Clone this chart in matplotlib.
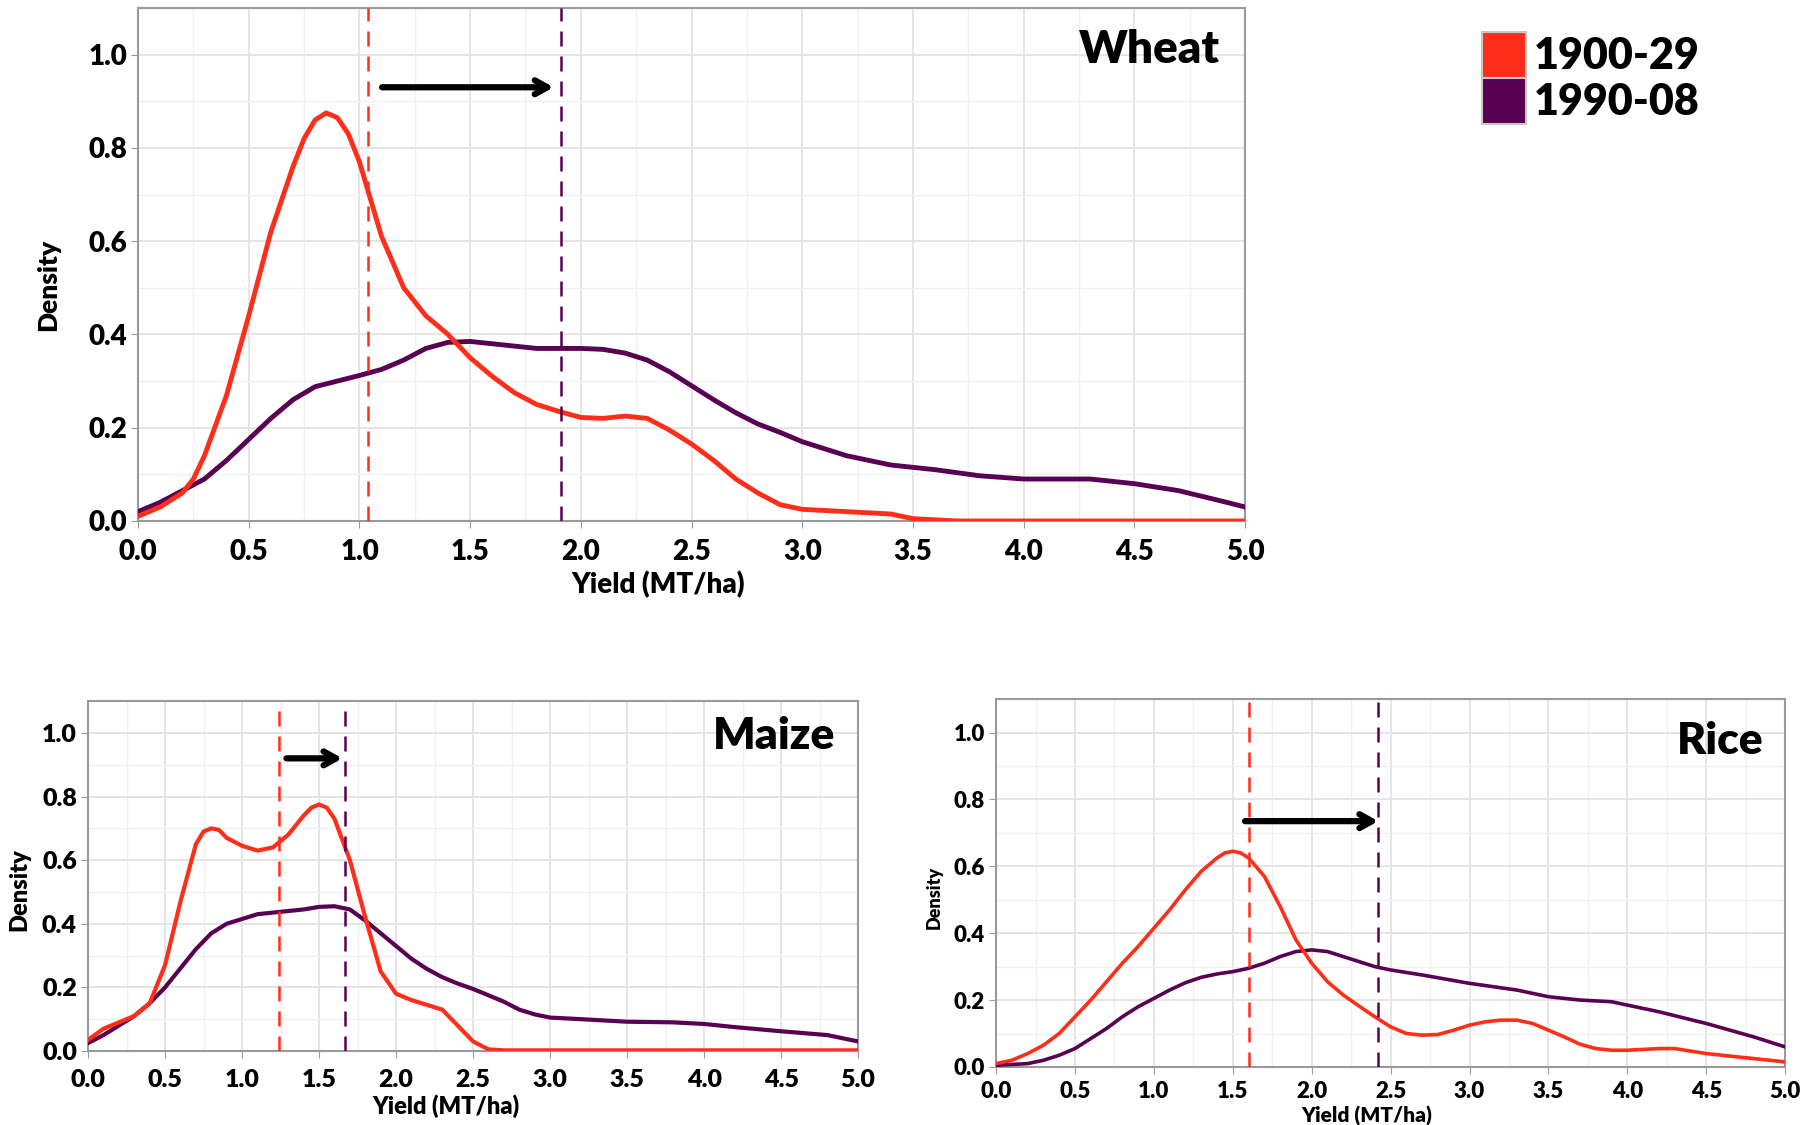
import matplotlib
matplotlib.use("Agg")
import matplotlib.pyplot as plt
from matplotlib.patches import Rectangle
from matplotlib.ticker import MultipleLocator

plt.rcParams["font.family"] = ["Lato", "DejaVu Sans"]
plt.rcParams["font.weight"] = "bold"

RED = "#ff2e1a"
PURPLE = "#5a0052"

# wheat densities
wheat_x_old = [0.0, 0.1, 0.2, 0.25, 0.3, 0.4, 0.5, 0.6, 0.7, 0.75, 0.8, 0.85, 0.9, 0.95, 1.0, 1.05,
               1.1, 1.2, 1.3, 1.4, 1.5, 1.6, 1.7, 1.8, 1.9, 2.0, 2.1, 2.2, 2.3, 2.4, 2.5,
               2.6, 2.7, 2.8, 2.9, 3.0, 3.2, 3.4, 3.5, 3.7, 5.0]
wheat_y_old = [0.01, 0.03, 0.06, 0.09, 0.14, 0.27, 0.44, 0.62, 0.76, 0.82, 0.86, 0.875, 0.865, 0.83, 0.77, 0.69,
               0.61, 0.50, 0.44, 0.40, 0.35, 0.31, 0.275, 0.25, 0.235, 0.222, 0.22, 0.225, 0.22, 0.195, 0.165,
               0.13, 0.09, 0.06, 0.035, 0.025, 0.02, 0.015, 0.005, 0.0, 0.0]
wheat_x_new = [0.0, 0.1, 0.2, 0.3, 0.4, 0.5, 0.6, 0.7, 0.8, 0.9, 1.0, 1.1, 1.2, 1.3, 1.4, 1.5,
               1.6, 1.7, 1.8, 1.9, 2.0, 2.1, 2.2, 2.3, 2.4, 2.5, 2.6, 2.7, 2.8, 2.9, 3.0,
               3.2, 3.4, 3.6, 3.8, 4.0, 4.3, 4.5, 4.7, 4.9, 5.0]
wheat_y_new = [0.02, 0.04, 0.065, 0.09, 0.13, 0.175, 0.22, 0.26, 0.288, 0.30, 0.312, 0.325, 0.345, 0.37, 0.383, 0.385,
               0.38, 0.375, 0.37, 0.37, 0.37, 0.368, 0.36, 0.345, 0.32, 0.29, 0.26, 0.232, 0.208, 0.19, 0.17,
               0.14, 0.12, 0.11, 0.097, 0.09, 0.09, 0.08, 0.065, 0.042, 0.03]

# maize densities
maize_x_old = [0.0, 0.1, 0.2, 0.3, 0.4, 0.5, 0.6, 0.7, 0.75, 0.8, 0.85, 0.9, 1.0, 1.1, 1.2, 1.3, 1.4,
               1.45, 1.5, 1.55, 1.6, 1.7, 1.8, 1.9, 2.0, 2.1, 2.2, 2.3, 2.4, 2.5, 2.6, 2.7, 5.0]
maize_y_old = [0.035, 0.07, 0.09, 0.11, 0.15, 0.27, 0.47, 0.65, 0.69, 0.70, 0.695, 0.67, 0.645, 0.63, 0.64, 0.68, 0.74,
               0.765, 0.775, 0.765, 0.73, 0.60, 0.42, 0.25, 0.18, 0.16, 0.145, 0.13, 0.08, 0.03, 0.005, 0.002, 0.002]
maize_x_new = [0.0, 0.1, 0.2, 0.3, 0.4, 0.5, 0.6, 0.7, 0.8, 0.9, 1.0, 1.1, 1.2, 1.3, 1.4, 1.5,
               1.6, 1.7, 1.8, 1.9, 2.0, 2.1, 2.2, 2.3, 2.4, 2.5, 2.6, 2.7, 2.8, 2.9, 3.0,
               3.2, 3.5, 3.8, 4.0, 4.2, 4.5, 4.8, 5.0]
maize_y_new = [0.025, 0.05, 0.08, 0.11, 0.15, 0.20, 0.26, 0.32, 0.37, 0.40, 0.415, 0.43, 0.435, 0.44, 0.445, 0.453,
               0.455, 0.445, 0.41, 0.37, 0.33, 0.29, 0.258, 0.232, 0.212, 0.195, 0.175, 0.155, 0.13, 0.115, 0.105,
               0.10, 0.092, 0.09, 0.085, 0.075, 0.062, 0.05, 0.03]

# rice densities
rice_x_old = [0.0, 0.1, 0.2, 0.3, 0.4, 0.5, 0.6, 0.7, 0.8, 0.9, 1.0, 1.1, 1.2, 1.3, 1.4, 1.45, 1.5,
              1.55, 1.6, 1.7, 1.8, 1.9, 2.0, 2.1, 2.2, 2.3, 2.4, 2.5, 2.6, 2.7, 2.8, 2.9, 3.0,
              3.1, 3.2, 3.3, 3.4, 3.5, 3.6, 3.7, 3.8, 3.9, 4.0, 4.2, 4.3, 4.5, 4.7, 5.0]
rice_y_old = [0.01, 0.02, 0.04, 0.065, 0.10, 0.15, 0.20, 0.255, 0.31, 0.36, 0.415, 0.47, 0.53, 0.585, 0.625, 0.64, 0.645,
              0.64, 0.625, 0.57, 0.48, 0.38, 0.31, 0.255, 0.215, 0.182, 0.15, 0.12, 0.10, 0.095, 0.097, 0.11, 0.125,
              0.135, 0.14, 0.14, 0.13, 0.11, 0.09, 0.068, 0.055, 0.05, 0.05, 0.055, 0.055, 0.04, 0.03, 0.015]
rice_x_new = [0.0, 0.2, 0.3, 0.4, 0.5, 0.6, 0.7, 0.8, 0.9, 1.0, 1.1, 1.2, 1.3, 1.4, 1.5,
              1.6, 1.7, 1.8, 1.9, 2.0, 2.1, 2.2, 2.3, 2.4, 2.5, 2.7, 3.0, 3.3, 3.5, 3.7,
              3.9, 4.0, 4.2, 4.5, 4.8, 5.0]
rice_y_new = [0.005, 0.01, 0.02, 0.035, 0.055, 0.085, 0.115, 0.15, 0.18, 0.205, 0.23, 0.252, 0.268, 0.278, 0.285,
              0.295, 0.31, 0.33, 0.345, 0.35, 0.345, 0.33, 0.315, 0.30, 0.29, 0.275, 0.25, 0.23, 0.21, 0.20,
              0.195, 0.185, 0.165, 0.13, 0.09, 0.06]

# mean lines and arrow positions (x0, x1, y)
wheat_means = [1.04, 1.91]
maize_means = [1.24, 1.67]
rice_means = [1.60, 2.42]
wheat_arrow = [1.09, 1.89, 0.93]
maize_arrow = [1.27, 1.67, 0.92]
rice_arrow = [1.56, 2.44, 0.735]

legend_labels = ["1900-29", "1990-08"]

fig = plt.figure(figsize=(18.16, 11.25), dpi=100)


def panel(rect, xo, yo, xn, yn, means, arrow, title, tick_fs, title_fs, lab_fs, ylab_fs,
          lw, xpad, xlab_pos, ylab_pos, title_pos):
    ax = fig.add_axes(rect)
    ax.set_xlim(0, 5)
    ax.set_ylim(0, 1.1)
    ax.xaxis.set_major_locator(MultipleLocator(0.5))
    ax.xaxis.set_minor_locator(MultipleLocator(0.25))
    ax.yaxis.set_major_locator(MultipleLocator(0.2))
    ax.yaxis.set_minor_locator(MultipleLocator(0.1))
    ax.grid(which="major", color="#e3e3e3", lw=1.3)
    ax.grid(which="minor", color="#f0f0f0", lw=1.0)
    ax.set_axisbelow(True)
    for s in ax.spines.values():
        s.set_color("#9a9a9a")
        s.set_linewidth(1.5)
    ax.tick_params(which="major", length=5, color="#9a9a9a", labelsize=tick_fs, pad=3)
    ax.tick_params(axis="x", pad=xpad)
    ax.tick_params(which="minor", length=0)
    ax.set_yticks([0, 0.2, 0.4, 0.6, 0.8, 1.0])
    ax.set_yticklabels(["0.0", "0.2", "0.4", "0.6", "0.8", "1.0"], fontweight="heavy")
    ax.set_xticks([i * 0.5 for i in range(11)])
    ax.set_xticklabels(["%.1f" % (i * 0.5) for i in range(11)], fontweight="heavy")

    ax.plot(xn, yn, color=PURPLE, lw=lw, zorder=3)
    ax.plot(xo, yo, color=RED, lw=lw, zorder=4)
    ax.axvline(means[0], color=RED, lw=1.8, ls=(0, (6, 4)), zorder=5)
    ax.axvline(means[1], color=PURPLE, lw=1.8, ls=(0, (6, 4)), zorder=5)
    ax.annotate("", xy=(arrow[1], arrow[2]), xytext=(arrow[0], arrow[2]),
                arrowprops=dict(arrowstyle="->,head_length=0.9,head_width=0.5",
                                color="black", lw=4.5), zorder=6)

    ax.text(title_pos[0], title_pos[1], title, transform=ax.transAxes, ha="right", va="center",
            fontsize=title_fs, fontweight="heavy")
    ax.set_xlabel("Yield (MT/ha)", fontsize=lab_fs, fontweight="heavy")
    ax.set_ylabel("Density", fontsize=ylab_fs, fontweight="heavy")
    ax.xaxis.set_label_coords(xlab_pos[0], xlab_pos[1])
    ax.yaxis.set_label_coords(ylab_pos[0], ylab_pos[1])
    return ax


panel([0.076, 0.5369, 0.6096, 0.456], wheat_x_old, wheat_y_old, wheat_x_new, wheat_y_new,
      wheat_means, wheat_arrow, "Wheat", 20, 33, 20, 19, 3.5, 8,
      (0.47, -0.098), (-0.07, 0.46), (0.977, 0.92))
panel([0.0485, 0.0658, 0.424, 0.311], maize_x_old, maize_y_old, maize_x_new, maize_y_new,
      maize_means, maize_arrow, "Maize", 18, 32, 17, 17, 3.0, 8,
      (0.465, -0.125), (-0.075, 0.46), (0.971, 0.90))
panel([0.5485, 0.0516, 0.4345, 0.327], rice_x_old, rice_y_old, rice_x_new, rice_y_new,
      rice_means, rice_arrow, "Rice", 16, 32, 15, 13, 2.6, 5,
      (0.47, -0.107), (-0.068, 0.46), (0.972, 0.886))

# legend drawn in figure pixels
W, H = 1816.0, 1125.0
for i, (lab, col) in enumerate(zip(legend_labels, [RED, PURPLE])):
    top = 32 + i * 46
    fig.patches.append(Rectangle((1482 / W, 1 - (top + 46) / H), 44 / W, 46 / H,
                                 transform=fig.transFigure, facecolor=col,
                                 edgecolor="#c8c8c8", lw=1.5))
    fig.text(1534 / W, 1 - (top + 24) / H, lab, fontsize=31, fontweight="heavy",
             ha="left", va="center")

fig.savefig("out.png", dpi=100)
